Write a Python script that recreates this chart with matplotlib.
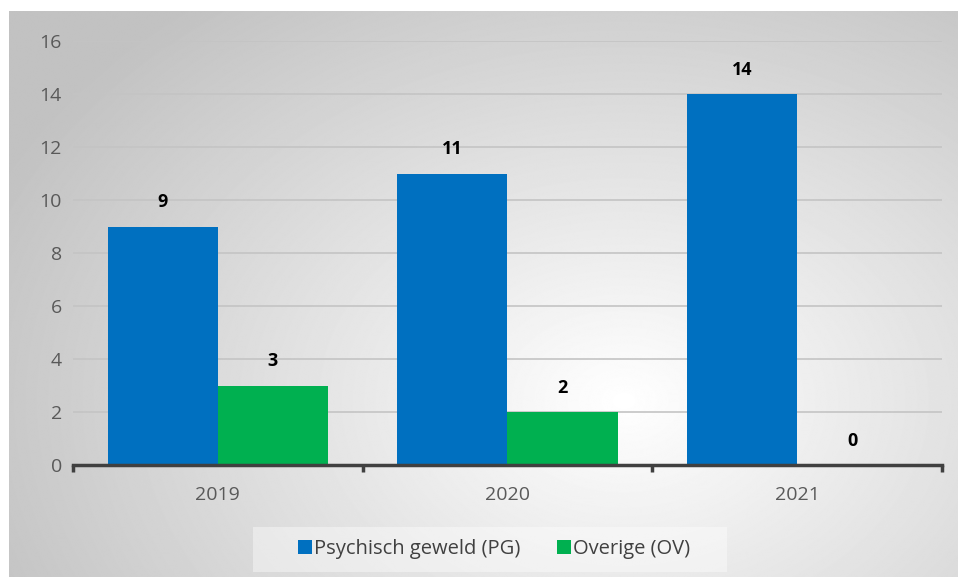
import matplotlib.pyplot as plt
import numpy as np
from matplotlib.patches import Rectangle

years = ['2019', '2020', '2021']
psychisch = [9, 11, 14]
overige = [3, 2, 0]

blue = '#0070C0'
green = '#00B050'

W, H = 958, 581
fig = plt.figure(figsize=(W / 100, H / 100), dpi=100)
plt.rcParams['font.family'] = ['Open Sans', 'DejaVu Sans']

# achtergrond met radiaal verloop
bg = fig.add_axes([0, 0, 1, 1])
bg.set_xlim(0, W)
bg.set_ylim(H, 0)
bg.axis('off')
yy, xx = np.mgrid[0:H, 0:W]
r = np.sqrt(((xx - 620) / 700.0) ** 2 + ((yy - 400) / 520.0) ** 2)
shade = np.clip(1.0 - 0.24 * r, 0.76, 1.0)
bg.imshow(shade, cmap='gray', vmin=0, vmax=1, extent=(9, W, 577, 11), aspect='auto')

ax = fig.add_axes([73 / W, 1 - 465 / H, (942 - 73) / W, (465 - 41) / H])
ax.patch.set_alpha(0)

x = np.arange(len(years))
bw = 0.38
b1 = ax.bar(x - bw / 2, psychisch, bw, color=blue, label='Psychisch geweld (PG)')
b2 = ax.bar(x + bw / 2, overige, bw, color=green, label='Overige (OV)')

for bars, vals in ((b1, psychisch), (b2, overige)):
    for b, v in zip(bars, vals):
        ax.annotate(str(v), (b.get_x() + b.get_width() / 2, v), textcoords='offset points',
                    xytext=(0, 11), ha='center', va='bottom', fontsize=13,
                    fontweight='bold', color='black')

ax.set_xlim(-0.5, 2.5)
ax.set_ylim(0, 16)
ax.set_yticks(range(0, 17, 2))
ax.grid(axis='y', color='#c4c4c4', linewidth=1.2)
ax.set_axisbelow(True)
for s in ('top', 'right', 'left'):
    ax.spines[s].set_visible(False)
ax.spines['bottom'].set_color('#404040')
ax.spines['bottom'].set_linewidth(2.5)
ax.tick_params(axis='y', length=0, labelsize=14, labelcolor='#595959', pad=8)
ax.set_xticks([-0.5, 0.5, 1.5, 2.5])
ax.set_xticklabels([])
ax.tick_params(axis='x', length=5, width=2.5, color='#404040')
for xi, lab in zip(x, years):
    ax.text(xi, -0.8, lab, ha='center', va='top', fontsize=14, color='#595959')

# legenda
bg.add_patch(Rectangle((253, 527), 474, 45, facecolor='white', alpha=0.4, edgecolor='none'))
leg = fig.legend(handles=[b1, b2], loc='center', bbox_to_anchor=(494 / W, 1 - 549 / H),
                 ncol=2, frameon=False, fontsize=14.5, handlelength=0.7, handleheight=0.7,
                 handletextpad=0.1, columnspacing=1.8)
for t in leg.get_texts():
    t.set_color('#404040')

fig.savefig('out.png', dpi=100)
